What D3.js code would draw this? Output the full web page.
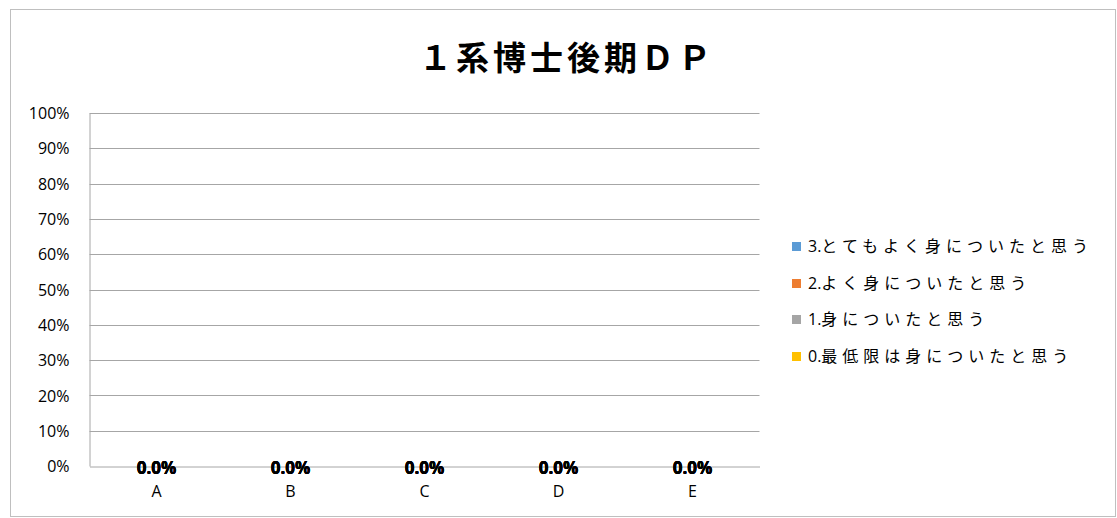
<!DOCTYPE html>
<html><head><meta charset="utf-8">
<script src="https://cdn.jsdelivr.net/npm/d3@7"></script>
<style>
html,body{margin:0;padding:0;background:#fff;}
svg{display:block;}
</style></head>
<body>
<svg id="chart" width="1117" height="518"></svg>
<script>
const title = "１系博士後期ＤＰ";
const categories = ["A","B","C","D","E"];
const seriesPrefix = ["3.","2.","1.","0."];
const seriesNames = ["とてもよく身についたと思う","よく身についたと思う","身についたと思う","最低限は身についたと思う"];
const seriesColors = ["#5b9bd5","#ed7d31","#a5a5a5","#ffc000"];
const s3 = [0,0,0,0,0];
const s2 = [0,0,0,0,0];
const s1 = [0,0,0,0,0];
const s0 = [0,0,0,0,0];
const yTicks = [0,0.1,0.2,0.3,0.4,0.5,0.6,0.7,0.8,0.9,1.0];

const svg = d3.select("#chart");
svg.append("rect").attr("x",10.5).attr("y",9.5).attr("width",1105).attr("height",507)
  .attr("fill","#fff").attr("stroke","#bfbfbf").attr("stroke-width",1);

const m = {left:89.5, right:759.5, top:113, bottom:466};
const x = d3.scaleBand().domain(categories).range([m.left,m.right]).paddingInner(0.5).paddingOuter(0.25);
const xc = d3.scaleBand().domain(categories).range([m.left,m.right]);
const y = d3.scaleLinear().domain([0,1]).range([m.bottom,m.top]);

const numFont = "'Open Sans','Noto Sans',sans-serif";
const cjk = "'Noto Sans CJK JP','Noto Sans',sans-serif";

// gridlines
svg.append("g").selectAll("line").data(yTicks.filter(d=>d>0)).join("line")
  .attr("x1",m.left).attr("x2",m.right)
  .attr("y1",d=>Math.round(y(d))+0.5).attr("y2",d=>Math.round(y(d))+0.5)
  .attr("stroke","#a6a6a6").attr("stroke-width",1);

// y axis
const yAxis = d3.axisLeft(y).tickValues(yTicks).tickFormat(d3.format(".0%")).tickSize(0).tickPadding(20);
const gy = svg.append("g").attr("transform",`translate(${m.left},0)`).call(yAxis);
gy.attr("font-size",16).attr("font-family",numFont);
gy.select(".domain").attr("stroke","#a6a6a6");
gy.selectAll("text").attr("fill","#000").attr("dy","0.35em");

// x axis
const xAxis = d3.axisBottom(xc).tickSize(0).tickPadding(25);
const gx = svg.append("g").attr("transform",`translate(0,${m.bottom+0.5})`).call(xAxis);
gx.attr("font-size",16).attr("font-family",numFont);
gx.select(".domain").attr("stroke","#a6a6a6");
gx.selectAll("text").attr("fill","#000").attr("dy","0.35em");

// stacked bars
const table = categories.map((c,i)=>({cat:c, s3:s3[i], s2:s2[i], s1:s1[i], s0:s0[i]}));
const keys = ["s3","s2","s1","s0"];
const stack = d3.stack().keys(keys)(table);
stack.forEach((layer,li)=>{
  svg.append("g").selectAll("rect").data(layer).join("rect")
    .attr("x",d=>x(d.data.cat)).attr("width",x.bandwidth())
    .attr("y",d=>y(d[1])).attr("height",d=>y(d[0])-y(d[1]))
    .attr("fill",seriesColors[li]);
});
stack.forEach((layer,li)=>{
  svg.append("g").selectAll("text").data(layer).join("text")
    .attr("x",d=>xc(d.data.cat)+xc.bandwidth()/2)
    .attr("y",d=>y((d[0]+d[1])/2)+8)
    .attr("text-anchor","middle")
    .attr("font-family",numFont).attr("font-size",17).attr("font-weight","bold")
    .text(d=>d3.format(".1%")(d.data[keys[li]]));
});

// title
svg.append("text").attr("x",567).attr("y",70).attr("text-anchor","middle")
  .attr("font-family",cjk).attr("font-size",33).attr("font-weight","bold")
  .attr("letter-spacing",4).text(title);

// legend
const lg = svg.append("g");
const rowY = [246,283,319,356];
seriesNames.forEach((n,i)=>{
  lg.append("rect").attr("x",792).attr("y",rowY[i]-4).attr("width",9).attr("height",9).attr("fill",seriesColors[i]);
  const t = lg.append("text").attr("x",808).attr("y",rowY[i]+6).attr("fill","#000");
  t.append("tspan").attr("font-family",numFont).attr("font-size",16).text(seriesPrefix[i]);
  t.append("tspan").attr("font-family",cjk).attr("font-size",16).attr("letter-spacing",5).text(n);
});
</script>
</body></html>
